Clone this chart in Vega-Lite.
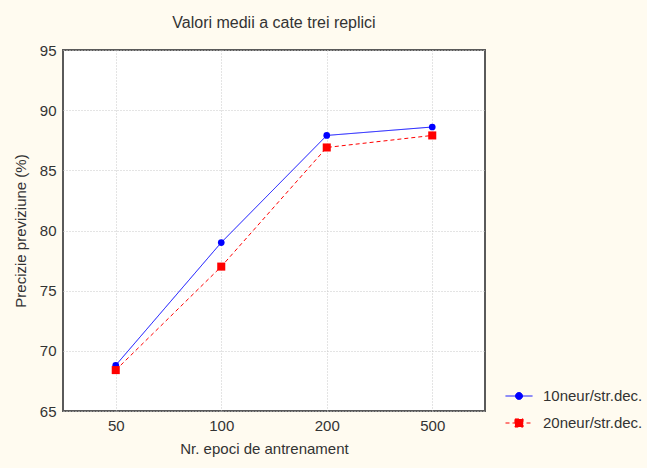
{
  "$schema": "https://vega.github.io/schema/vega-lite/v6.json",
  "width": 422,
  "height": 361,
  "autosize": {"type": "none"},
  "padding": {"left": 63, "top": 50, "right": 162, "bottom": 57},
  "background": "#fffbf0",
  "title": {
    "text": "Valori medii a cate trei replici",
    "font": "Liberation Sans",
    "fontSize": 16,
    "fontWeight": "normal",
    "color": "#333333",
    "anchor": "middle",
    "offset": 12
  },
  "config": {
    "view": {"fill": "#ffffff", "stroke": "#5a5a5a", "strokeWidth": 2},
    "axis": {
      "labelFont": "Liberation Sans",
      "titleFont": "Liberation Sans",
      "labelFontSize": 15,
      "titleFontSize": 15,
      "titleFontWeight": "normal",
      "labelColor": "#333333",
      "titleColor": "#333333",
      "domain": false,
      "ticks": false,
      "grid": true,
      "gridColor": "#c8c8c8",
      "gridDash": [1, 2],
      "gridWidth": 1
    }
  },
  "data": {
    "values": [
      {"epoci": 50, "serie": "10neur/str.dec.", "precizie": 68.8},
      {"epoci": 100, "serie": "10neur/str.dec.", "precizie": 79.0},
      {"epoci": 200, "serie": "10neur/str.dec.", "precizie": 87.9},
      {"epoci": 500, "serie": "10neur/str.dec.", "precizie": 88.6},
      {"epoci": 50, "serie": "20neur/str.dec.", "precizie": 68.4},
      {"epoci": 100, "serie": "20neur/str.dec.", "precizie": 77.0},
      {"epoci": 200, "serie": "20neur/str.dec.", "precizie": 86.9},
      {"epoci": 500, "serie": "20neur/str.dec.", "precizie": 87.9}
    ]
  },
  "encoding": {
    "x": {
      "field": "epoci",
      "type": "ordinal",
      "sort": [50, 100, 200, 500],
      "scale": {"type": "point", "padding": 0.5},
      "axis": {
        "title": "Nr. epoci de antrenament",
        "grid": true,
        "labelAngle": 0,
        "labelPadding": 7,
        "titlePadding": 8,
        "titleX": 201
      }
    },
    "y": {
      "field": "precizie",
      "type": "quantitative",
      "scale": {"domain": [65, 95], "nice": false, "zero": false},
      "axis": {
        "title": "Precizie previziune (%)",
        "values": [65, 70, 75, 80, 85, 90, 95],
        "labelPadding": 7,
        "titlePadding": 11
      }
    },
    "color": {
      "field": "serie",
      "type": "nominal",
      "scale": {"domain": ["10neur/str.dec.", "20neur/str.dec."], "range": ["#0000ff", "#ff0000"]},
      "legend": {
        "orient": "none",
        "legendX": 442,
        "legendY": 332,
        "title": null,
        "symbolSize": 729,
        "symbolStrokeWidth": 1,
        "labelFont": "Liberation Sans",
        "labelFontSize": 15,
        "labelColor": "#333333",
        "labelOffset": 10,
        "rowPadding": 5,
        "encode": {
          "symbols": {
            "update": {
              "shape": {"signal": "datum.value == '10neur/str.dec.' ? 'M-1,0H1M0.26,0A0.26,0.26 0 1 1 -0.26,0A0.26,0.26 0 1 1 0.26,0Z' : 'M-1,0H1M-0.3,-0.3H0.3V0.3H-0.3Z'"},
              "fill": {"signal": "datum.value == '10neur/str.dec.' ? '#0000ff' : '#ff0000'"},
              "strokeWidth": {"value": 1}
            }
          }
        }
      }
    }
  },
  "layer": [
    {
      "mark": {"type": "line", "strokeWidth": 1},
      "encoding": {
        "strokeDash": {
          "field": "serie",
          "type": "nominal",
          "scale": {"domain": ["10neur/str.dec.", "20neur/str.dec."], "range": [[1, 0], [4, 3]]}
        }
      }
    },
    {
      "transform": [{"filter": "datum.serie == '10neur/str.dec.'"}],
      "mark": {"type": "point", "filled": true, "opacity": 1, "size": 45, "shape": "circle"}
    },
    {
      "transform": [{"filter": "datum.serie == '20neur/str.dec.'"}],
      "mark": {"type": "point", "filled": true, "opacity": 1, "size": 45, "shape": "M-1.2,-1.2H1.2V1.2H-1.2Z"}
    }
  ]
}
